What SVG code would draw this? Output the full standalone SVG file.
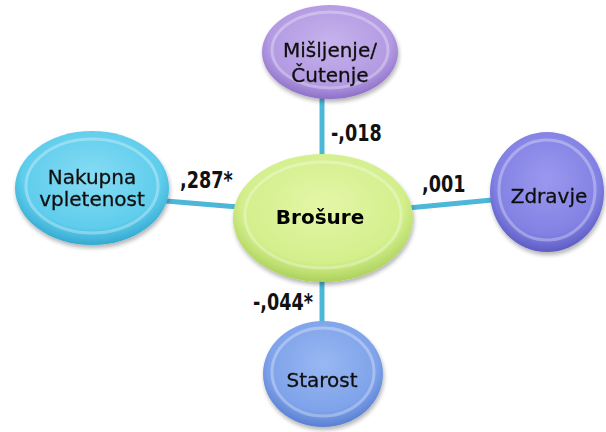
<svg xmlns="http://www.w3.org/2000/svg" width="606" height="432" viewBox="0 0 606 432">
<defs>
<style>
.lbl{font-family:"DejaVu Sans",Verdana,sans-serif;font-weight:bold;font-size:20px;fill:#111}
.nt{font-family:"DejaVu Sans",Verdana,sans-serif;font-size:20px;fill:#111;stroke:#111;stroke-width:0.3;text-anchor:middle}
.ntb{font-family:"DejaVu Sans",Verdana,sans-serif;font-size:20px;font-weight:bold;fill:#000;text-anchor:middle}
.conn{stroke:#4cb7d6;stroke-width:5;fill:none}
.hl{fill:none;stroke:#fff;stroke-opacity:0.3;stroke-width:3}
</style>
<radialGradient id="gP" cx="50%" cy="40%" r="60%"><stop offset="0" stop-color="#c6b3ec"/><stop offset="0.75" stop-color="#b39ae2"/><stop offset="1" stop-color="#8d70c8"/></radialGradient>
<radialGradient id="gC" cx="50%" cy="40%" r="60%"><stop offset="0" stop-color="#86dcf4"/><stop offset="0.75" stop-color="#5fcdec"/><stop offset="1" stop-color="#34a9d0"/></radialGradient>
<radialGradient id="gG" cx="50%" cy="40%" r="60%"><stop offset="0" stop-color="#e4f6a8"/><stop offset="0.75" stop-color="#d3ef8c"/><stop offset="1" stop-color="#abd15a"/></radialGradient>
<radialGradient id="gV" cx="50%" cy="40%" r="60%"><stop offset="0" stop-color="#9a98ee"/><stop offset="0.75" stop-color="#8382e4"/><stop offset="1" stop-color="#5d5cc4"/></radialGradient>
<radialGradient id="gB" cx="50%" cy="40%" r="60%"><stop offset="0" stop-color="#98b7f2"/><stop offset="0.75" stop-color="#7fa3ea"/><stop offset="1" stop-color="#5a7fd0"/></radialGradient>
<filter id="sh" x="-20%" y="-20%" width="140%" height="150%"><feGaussianBlur in="SourceAlpha" stdDeviation="2"/><feOffset dx="1" dy="3"/><feComponentTransfer><feFuncA type="linear" slope="0.3"/></feComponentTransfer><feMerge><feMergeNode/><feMergeNode in="SourceGraphic"/></feMerge></filter>
</defs>
<rect width="606" height="432" fill="#fff"/>
<g id="connectors">
<line class="conn" x1="322" y1="98" x2="322" y2="158"/>
<line class="conn" x1="166" y1="201" x2="238" y2="207"/>
<line class="conn" x1="408" y1="208" x2="492" y2="200"/>
<line class="conn" x1="322" y1="280" x2="322" y2="325"/>
</g>
<g id="labels">
<text class="lbl" transform="translate(331,141) scale(0.88,1.12)">-,018</text>
<text class="lbl" transform="translate(180,188) scale(0.88,1.12)">,287*</text>
<text class="lbl" transform="translate(422,192) scale(0.88,1.12)">,001</text>
<text class="lbl" transform="translate(253,310) scale(0.88,1.12)">-,044*</text>
</g>
<g id="node-misljenje" filter="url(#sh)">
<ellipse cx="330" cy="52" rx="68" ry="47" fill="url(#gP)"/>
<ellipse class="hl" cx="330" cy="50" rx="58" ry="38"/>
<text class="nt" x="330" y="57">Mišljenje/</text>
<text class="nt" x="330" y="82">Čutenje</text>
</g>
<g id="node-nakupna" filter="url(#sh)">
<ellipse cx="92" cy="188" rx="77" ry="57" fill="url(#gC)"/>
<ellipse class="hl" cx="92" cy="186" rx="66" ry="47"/>
<text class="nt" x="92" y="184">Nakupna</text>
<text class="nt" x="92" y="206">vpletenost</text>
</g>
<g id="node-brosure" filter="url(#sh)">
<ellipse cx="323" cy="218" rx="90" ry="64" fill="url(#gG)"/>
<ellipse class="hl" cx="323" cy="215" rx="78" ry="53"/>
<text class="ntb" x="320" y="224">Brošure</text>
</g>
<g id="node-zdravje" filter="url(#sh)">
<ellipse cx="547" cy="192" rx="57" ry="60" fill="url(#gV)"/>
<ellipse class="hl" cx="547" cy="190" rx="48" ry="50"/>
<text class="nt" x="549" y="203">Zdravje</text>
</g>
<g id="node-starost" filter="url(#sh)">
<ellipse cx="323" cy="374" rx="60" ry="53" fill="url(#gB)"/>
<ellipse class="hl" cx="323" cy="372" rx="51" ry="44"/>
<text class="nt" x="322" y="387">Starost</text>
</g>
</svg>
